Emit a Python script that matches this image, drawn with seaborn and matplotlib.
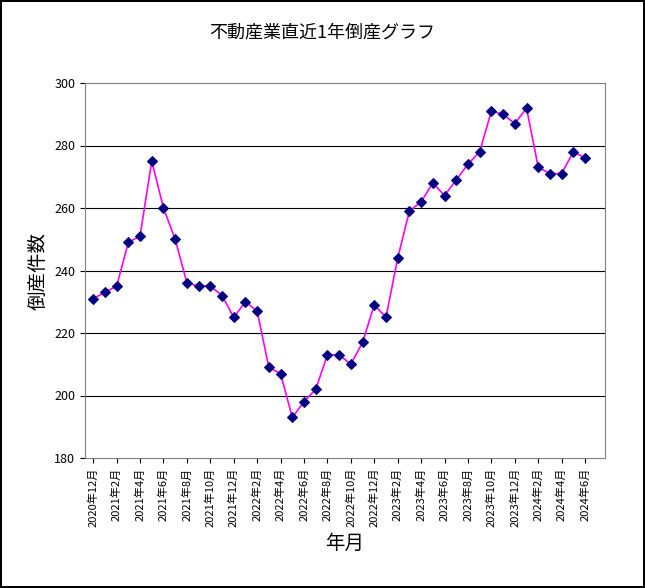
import matplotlib
matplotlib.use("Agg")
import matplotlib.pyplot as plt
import seaborn as sns
import pandas as pd

months = [f"{y}年{m}月" for y, m in [(2020, 12)] + [(2021, i) for i in range(1, 13)] +
          [(2022, i) for i in range(1, 13)] + [(2023, i) for i in range(1, 13)] +
          [(2024, i) for i in range(1, 7)]]
values = [231, 233, 235, 249, 251, 275, 260, 250, 236, 235, 235, 232, 225, 230, 227,
          209, 207, 193, 198, 202, 213, 213, 210, 217, 229, 225, 244, 259, 262, 268,
          264, 269, 274, 278, 291, 290, 287, 292, 273, 271, 271, 278, 276]
yticks = [180, 200, 220, 240, 260, 280, 300]

plt.rcParams["font.family"] = "Noto Sans CJK JP"
df = pd.DataFrame({"x": range(len(values)), "v": values})
fig = plt.figure(figsize=(6.45, 5.88), dpi=100)
fig.patch.set_edgecolor("black"); fig.patch.set_linewidth(1.5)
ax = fig.add_axes([85/645, 1-458/588, 520/645, 375/588])
sns.lineplot(data=df, x="x", y="v", ax=ax, color="#FF00FF", linewidth=1.2,
             marker="D", markersize=5, markerfacecolor="#000080", markeredgecolor="#000080")
ax.set_xlim(-0.7, len(values) + 0.7)
ax.set_ylim(180, 300)
ax.set_yticks(yticks)
for t in yticks[1:-1]:
    ax.axhline(t, color="black", linewidth=0.8, zorder=0)
ax.set_xticks(range(0, len(values), 2))
ax.set_xticklabels(months[::2], rotation=90, fontsize=8)
ax.tick_params(axis="y", labelsize=9)
for s in ax.spines.values():
    s.set_color("#808080")
ax.set_xlabel("年月", fontsize=14)
ax.set_ylabel("倒産件数", fontsize=14)
fig.suptitle("不動産業直近1年倒産グラフ", y=0.96, fontsize=13)
fig.savefig("out.png", dpi=100, edgecolor=fig.get_edgecolor())
